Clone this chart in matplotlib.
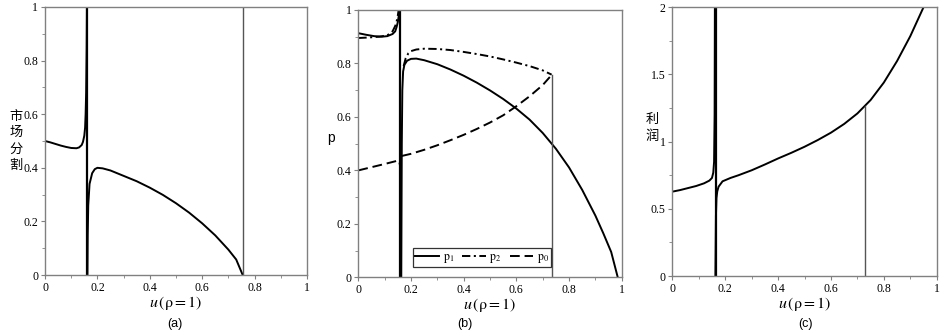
import matplotlib
matplotlib.use("Agg")
import matplotlib.pyplot as plt
from matplotlib.ticker import MultipleLocator

plt.rcParams['font.family'] = ['Liberation Serif', 'DejaVu Serif']
plt.rcParams['mathtext.fontset'] = 'stix'
plt.rcParams['lines.scale_dashes'] = False

# ---- (a) market share ----
a_left_u = [0, 0.02, 0.04, 0.06, 0.08, 0.10, 0.12, 0.13, 0.14, 0.145, 0.15, 0.153, 0.155, 0.157, 0.159, 0.160]
a_left_y = [0.50, 0.495, 0.489, 0.483, 0.478, 0.474, 0.473, 0.476, 0.485, 0.497, 0.52, 0.55, 0.60, 0.68, 0.85, 1.0]
a_right_u = [0.162, 0.163, 0.165, 0.17, 0.18, 0.19, 0.20, 0.22, 0.25, 0.30, 0.35, 0.40, 0.45, 0.50,
             0.55, 0.60, 0.65, 0.70, 0.73, 0.755]
a_right_y = [0.0, 0.15, 0.26, 0.34, 0.38, 0.395, 0.40, 0.398, 0.39, 0.37, 0.35, 0.326, 0.299, 0.268,
             0.233, 0.193, 0.148, 0.095, 0.058, 0.0]
a_pole_u = 0.160
a_end_u = 0.755
a_end_top = 1.0

# ---- (b) prices ----
b_p1_left_u = [0, 0.03, 0.06, 0.09, 0.11, 0.13, 0.14, 0.145, 0.15, 0.153, 0.156]
b_p1_left_y = [0.913, 0.907, 0.902, 0.90, 0.902, 0.91, 0.92, 0.935, 0.955, 0.975, 1.0]
b_p2_left_u = [0, 0.04, 0.08, 0.11, 0.13, 0.14, 0.145, 0.15, 0.153]
b_p2_left_y = [0.895, 0.897, 0.90, 0.905, 0.92, 0.94, 0.955, 0.98, 1.0]
b_p0_left_u = [0, 0.05, 0.10, 0.14, 0.15, 0.155, 0.158, 0.160, 0.161, 0.162]
b_p0_left_y = [0.40, 0.412, 0.424, 0.434, 0.437, 0.435, 0.42, 0.35, 0.20, 0.0]

b_p1_right_u = [0.163, 0.165, 0.167, 0.17, 0.175, 0.185, 0.20, 0.22, 0.25, 0.30, 0.35, 0.40, 0.45,
                0.50, 0.55, 0.60, 0.65, 0.70, 0.75, 0.80, 0.85, 0.90, 0.93, 0.96, 0.985]
b_p1_right_y = [0.0, 0.5, 0.7, 0.77, 0.795, 0.81, 0.817, 0.818, 0.812, 0.797, 0.777, 0.754, 0.728,
                0.699, 0.667, 0.631, 0.590, 0.540, 0.481, 0.411, 0.327, 0.231, 0.165, 0.095, 0.0]
b_p2_right_u = [0.172, 0.18, 0.19, 0.20, 0.22, 0.25, 0.30, 0.35, 0.40, 0.45, 0.50, 0.55, 0.60, 0.65, 0.70, 0.734]
b_p2_right_y = [0.79, 0.82, 0.838, 0.846, 0.852, 0.855, 0.854, 0.85, 0.843, 0.835, 0.826, 0.815, 0.803, 0.79, 0.774, 0.758]
b_p0_right_u = [0.165, 0.20, 0.25, 0.30, 0.35, 0.40, 0.45, 0.50, 0.55, 0.60, 0.65, 0.70, 0.734]
b_p0_right_y = [0.454, 0.462, 0.477, 0.494, 0.513, 0.533, 0.555, 0.579, 0.606, 0.640, 0.677, 0.719, 0.757]
b_pole_u = 0.160
b_end_u = 0.734
b_end_top = 0.757
b_labels = [r'$\mathrm{p}_1$', r'$\mathrm{p}_2$', r'$\mathrm{p}_0$']

# ---- (c) profit ----
c_left_u = [0, 0.03, 0.06, 0.09, 0.12, 0.14, 0.15, 0.155, 0.158, 0.160, 0.161]
c_left_y = [0.628, 0.64, 0.655, 0.67, 0.69, 0.71, 0.73, 0.77, 0.85, 1.2, 2.0]
c_right_u = [0.163, 0.165, 0.167, 0.17, 0.175, 0.19, 0.22, 0.25, 0.30, 0.35, 0.40, 0.45, 0.50,
             0.55, 0.60, 0.65, 0.70, 0.75, 0.80, 0.85, 0.90, 0.95]
c_right_y = [0.0, 0.45, 0.58, 0.63, 0.665, 0.705, 0.73, 0.75, 0.787, 0.83, 0.875, 0.917, 0.962,
             1.012, 1.067, 1.132, 1.21, 1.31, 1.44, 1.60, 1.785, 2.0]
c_pole_u = 0.164
c_end_u = 0.729
c_end_top = 1.268

fig = plt.figure(figsize=(9.42, 3.31), dpi=100)
ax_a = fig.add_axes([0.0478, 0.169, 0.278, 0.810])
ax_b = fig.add_axes([0.3804, 0.162, 0.2796, 0.808])
ax_c = fig.add_axes([0.7137, 0.166, 0.2807, 0.812])

frame_col = '#808080'
lw = 1.4


def style(ax, ymax, ymajor, yminor):
    ax.set_xlim(0, 1)
    ax.set_ylim(0, ymax)
    ax.xaxis.set_minor_locator(MultipleLocator(0.1))
    ax.yaxis.set_minor_locator(MultipleLocator(yminor))
    ax.set_xticks([0, 0.2, 0.4, 0.6, 0.8, 1.0])
    ax.set_xticklabels(['0', '0.2', '0.4', '0.6', '0.8', '1'])
    for s in ax.spines.values():
        s.set_color(frame_col)
        s.set_linewidth(1.0)
    ax.tick_params(which='both', direction='out', color=frame_col, labelsize=8.5, pad=2)
    ax.tick_params(which='major', length=3)
    ax.tick_params(which='minor', length=2)
    ax.set_xlabel(r'$u\,(\mathrm{\rho} = 1)$', fontsize=11.5, labelpad=0)


# (a)
style(ax_a, 1, 0.2, 0.1)
ax_a.set_yticks([0, 0.2, 0.4, 0.6, 0.8, 1.0])
ax_a.set_yticklabels(['0', '0.2', '0.4', '0.6', '0.8', '1'])
ax_a.plot(a_left_u, a_left_y, color='black', lw=lw)
ax_a.plot(a_right_u, a_right_y, color='black', lw=lw)
ax_a.plot([a_pole_u, a_pole_u], [0, 1], color='black', lw=1.6)
ax_a.plot([a_end_u, a_end_u], [0, a_end_top], color='#555555', lw=1.0)
ax_a.set_ylabel('市\n场\n分\n割', rotation=0, fontsize=9.5, linespacing=1.35,
                family=['Noto Sans CJK SC', 'DejaVu Sans'], va='center', ha='center')
ax_a.yaxis.set_label_coords(-0.11, 0.5)

# (b)
style(ax_b, 1, 0.2, 0.1)
ax_b.set_yticks([0, 0.2, 0.4, 0.6, 0.8, 1.0])
ax_b.set_yticklabels(['0', '0.2', '0.4', '0.6', '0.8', '1'])
dashdot = (0, (6, 2.5, 1.5, 2.5))
dashed = (0, (7, 3.5))
h1, = ax_b.plot(b_p1_left_u, b_p1_left_y, color='black', lw=lw)
h2, = ax_b.plot(b_p2_left_u, b_p2_left_y, color='black', lw=lw, linestyle=dashdot)
h0, = ax_b.plot(b_p0_left_u, b_p0_left_y, color='black', lw=lw, linestyle=dashed)
ax_b.plot(b_p1_right_u, b_p1_right_y, color='black', lw=lw)
ax_b.plot(b_p2_right_u, b_p2_right_y, color='black', lw=lw, linestyle=dashdot)
ax_b.plot(b_p0_right_u, b_p0_right_y, color='black', lw=lw, linestyle=dashed)
ax_b.plot([b_pole_u, b_pole_u], [0, 1], color='black', lw=1.6)
ax_b.plot([b_end_u, b_end_u], [0, b_end_top], color='#555555', lw=1.0)
ax_b.set_ylabel('p', rotation=0, fontsize=10, family=['Liberation Sans', 'DejaVu Sans'],
                va='center', ha='center')
ax_b.yaxis.set_label_coords(-0.105, 0.52)
leg = ax_b.legend([h1, h2, h0], b_labels, loc='lower left', bbox_to_anchor=(0.208, 0.038),
                  ncol=3, fontsize=8.5, frameon=True, fancybox=False, handlelength=2.0,
                  handletextpad=0.3, columnspacing=0.7, borderpad=0.2, borderaxespad=0)
leg.get_frame().set_edgecolor('black')
leg.get_frame().set_linewidth(0.9)

# (c)
style(ax_c, 2, 0.5, 0.25)
ax_c.set_yticks([0, 0.5, 1.0, 1.5, 2.0])
ax_c.set_yticklabels(['0', '0.5', '1', '1.5', '2'])
ax_c.plot(c_left_u, c_left_y, color='black', lw=lw)
ax_c.plot(c_right_u, c_right_y, color='black', lw=lw)
ax_c.plot([c_pole_u, c_pole_u], [0, 2], color='black', lw=1.6)
ax_c.plot([c_end_u, c_end_u], [0, c_end_top], color='#555555', lw=1.0)
ax_c.set_ylabel('利\n润', rotation=0, fontsize=9.5, linespacing=1.35,
                family=['Noto Sans CJK SC', 'DejaVu Sans'], va='center', ha='center')
ax_c.yaxis.set_label_coords(-0.075, 0.55)

# sub-figure captions
for x, txt in [(0.186, '(a)'), (0.494, '(b)'), (0.855, '(c)')]:
    fig.text(x, 0.02, txt, ha='center', va='center', fontsize=9,
             family=['Liberation Sans', 'DejaVu Sans'])

fig.savefig('out.png', dpi=100)
